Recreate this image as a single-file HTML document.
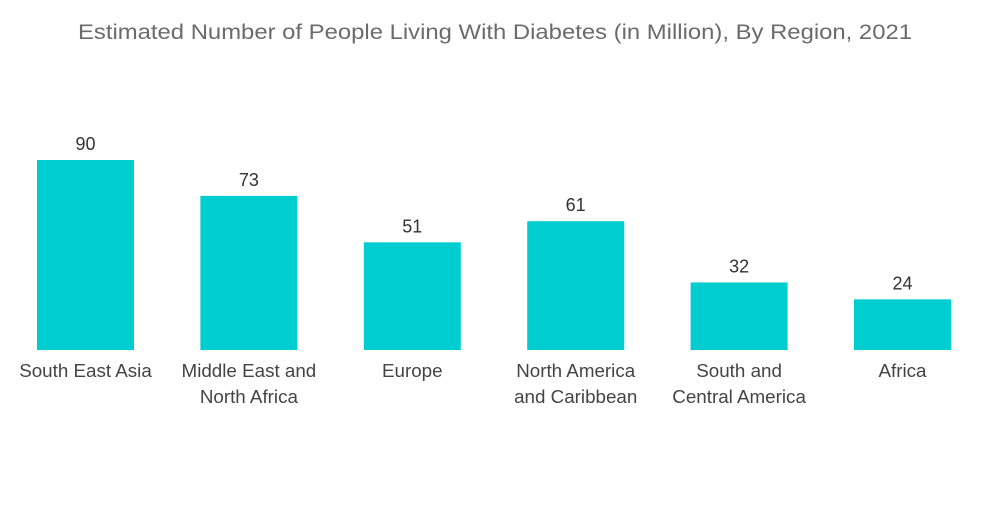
<!DOCTYPE html>
<html><head><meta charset="utf-8"><style>
body{margin:0;background:#fff;width:1000px;height:504px;overflow:hidden;font-family:"Liberation Sans",sans-serif}
</style></head><body>
<svg id="chart" width="1000" height="504">
<text x="495" y="39" text-anchor="middle" font-size="21" textLength="834" lengthAdjust="spacingAndGlyphs" fill="#6b6b6b">Estimated Number of People Living With Diabetes (in Million), By Region, 2021</text>
<g id="bars"></g>
</svg>
<script>
const categories=[["South East Asia"],["Middle East and","North Africa"],["Europe"],["North America","and Caribbean"],["South and","Central America"],["Africa"]];
const values=[90,73,51,61,32,24];
const baseY=350, scale=190/90, x0=37, step=163.4, bw=97;
const g=document.getElementById('bars');
const ns='http://www.w3.org/2000/svg';
function y(v){return baseY-v*scale;}
function x(i){return x0+i*step;}
values.forEach((v,i)=>{
  const r=document.createElementNS(ns,'rect');
  r.setAttribute('x',x(i));r.setAttribute('y',y(v));
  r.setAttribute('width',bw);r.setAttribute('height',baseY-y(v));
  r.setAttribute('fill','#00cdd0');
  
  
  g.appendChild(r);
  const t=document.createElementNS(ns,'text');
  t.setAttribute('x',x(i)+bw/2);t.setAttribute('y',y(v)-10);
  t.setAttribute('text-anchor','middle');t.setAttribute('font-size','18');t.setAttribute('fill','#333');
  t.textContent=v;
  
  
  g.appendChild(t);
  categories[i].forEach((line,j)=>{
    const c=document.createElementNS(ns,'text');
    c.setAttribute('x',x(i)+bw/2);c.setAttribute('y',377+j*26);
    c.setAttribute('text-anchor','middle');c.setAttribute('font-size','18.8');c.setAttribute('fill','#444');
    c.textContent=line;
    
    
    g.appendChild(c);
  });
});
</script>
</body></html>
